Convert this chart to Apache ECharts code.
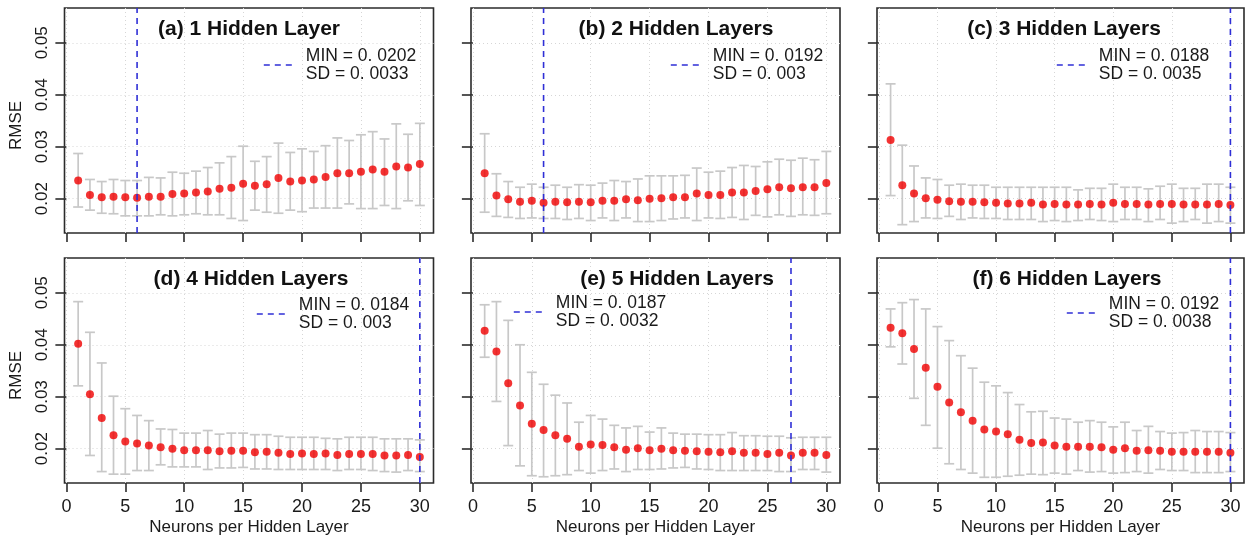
<!DOCTYPE html>
<html>
<head>
<meta charset="utf-8">
<script src="https://cdn.jsdelivr.net/npm/echarts@6/dist/echarts.min.js"></script>
<style>
  html, body { margin: 0; padding: 0; background: #ffffff; }
  #chart { width: 1245px; height: 539px; }
</style>
</head>
<body>
<div id="chart"></div>
<script>
// Neurons per hidden layer (x values shared by every panel)
const neurons = [1, 2, 3, 4, 5, 6, 7, 8, 9, 10, 11, 12, 13, 14, 15, 16, 17, 18, 19, 20, 21, 22, 23, 24, 25, 26, 27, 28, 29, 30];
const xTicks = [0, 5, 10, 15, 20, 25, 30];
const yTicks = [0.02, 0.03, 0.04, 0.05];

const panelTitles = ['(a) 1 Hidden Layer', '(b) 2 Hidden Layers', '(c) 3 Hidden Layers',
                     '(d) 4 Hidden Layers', '(e) 5 Hidden Layers', '(f) 6 Hidden Layers'];
const sdValues = [0.0033, 0.003, 0.0035, 0.003, 0.0032, 0.0038];

// 1 hidden layer: mean RMSE with upper / lower error bar ends
const rmse1  = [0.0235,0.0207,0.0203,0.0204,0.0203,0.0202,0.0204,0.0204,0.0209,0.0210,0.0212,0.0214,0.0219,0.0221,0.0229,0.0225,0.0228,0.0240,0.0233,0.0235,0.0237,0.0242,0.0249,0.0249,0.0252,0.0256,0.0252,0.0262,0.0260,0.0267];
const upper1 = [0.0287,0.0237,0.0233,0.0237,0.0235,0.0235,0.0241,0.0240,0.0251,0.0249,0.0253,0.0260,0.0269,0.0281,0.0301,0.0272,0.0281,0.0307,0.0289,0.0296,0.0291,0.0302,0.0317,0.0312,0.0323,0.0329,0.0315,0.0344,0.0324,0.0345];
const lower1 = [0.0184,0.0178,0.0172,0.0171,0.0167,0.0167,0.0167,0.0169,0.0167,0.0169,0.0171,0.0169,0.0169,0.0162,0.0158,0.0178,0.0174,0.0172,0.0178,0.0175,0.0182,0.0182,0.0182,0.0190,0.0181,0.0181,0.0187,0.0181,0.0196,0.0187];

// 2 hidden layers
const rmse2  = [0.0249,0.0206,0.0199,0.0194,0.0196,0.0192,0.0194,0.0193,0.0194,0.0193,0.0196,0.0196,0.0199,0.0197,0.0200,0.0201,0.0203,0.0203,0.0210,0.0207,0.0207,0.0212,0.0212,0.0215,0.0218,0.0222,0.0220,0.0222,0.0222,0.0230];
const upper2 = [0.0325,0.0248,0.0233,0.0222,0.0228,0.0222,0.0226,0.0222,0.0227,0.0226,0.0230,0.0235,0.0233,0.0238,0.0244,0.0244,0.0244,0.0245,0.0259,0.0251,0.0253,0.0260,0.0264,0.0262,0.0271,0.0276,0.0274,0.0278,0.0275,0.0291];
const lower2 = [0.0174,0.0166,0.0164,0.0162,0.0163,0.0162,0.0162,0.0160,0.0162,0.0158,0.0163,0.0158,0.0163,0.0156,0.0156,0.0158,0.0161,0.0163,0.0158,0.0163,0.0162,0.0164,0.0160,0.0168,0.0165,0.0169,0.0166,0.0169,0.0168,0.0171];

// 3 hidden layers
const rmse3  = [0.0313,0.0226,0.0210,0.0201,0.0198,0.0195,0.0194,0.0194,0.0193,0.0192,0.0191,0.0191,0.0192,0.0189,0.0190,0.0189,0.0189,0.0190,0.0189,0.0192,0.0190,0.0190,0.0189,0.0190,0.0190,0.0189,0.0189,0.0189,0.0190,0.0188];
const upper3 = [0.0421,0.0303,0.0263,0.0240,0.0237,0.0226,0.0228,0.0226,0.0226,0.0222,0.0222,0.0222,0.0222,0.0222,0.0222,0.0222,0.0217,0.0220,0.0220,0.0228,0.0222,0.0222,0.0219,0.0224,0.0228,0.0220,0.0220,0.0228,0.0228,0.0222];
const lower3 = [0.0206,0.0150,0.0156,0.0163,0.0162,0.0166,0.0160,0.0163,0.0162,0.0162,0.0160,0.0160,0.0160,0.0156,0.0158,0.0156,0.0158,0.0160,0.0158,0.0156,0.0160,0.0160,0.0156,0.0160,0.0153,0.0156,0.0160,0.0153,0.0156,0.0153];

// 4 hidden layers
const rmse4  = [0.0402,0.0305,0.0259,0.0226,0.0214,0.0210,0.0206,0.0203,0.0200,0.0197,0.0197,0.0197,0.0195,0.0196,0.0196,0.0193,0.0194,0.0192,0.0190,0.0191,0.0190,0.0191,0.0188,0.0190,0.0190,0.0190,0.0187,0.0187,0.0188,0.0184];
const upper4 = [0.0483,0.0424,0.0365,0.0301,0.0277,0.0264,0.0254,0.0238,0.0237,0.0230,0.0230,0.0235,0.0228,0.0230,0.0230,0.0227,0.0227,0.0224,0.0222,0.0222,0.0222,0.0220,0.0219,0.0222,0.0222,0.0222,0.0219,0.0219,0.0219,0.0217];
const lower4 = [0.0321,0.0187,0.0156,0.0151,0.0151,0.0158,0.0158,0.0169,0.0165,0.0165,0.0165,0.0160,0.0163,0.0163,0.0164,0.0161,0.0161,0.0160,0.0160,0.0160,0.0160,0.0160,0.0158,0.0160,0.0160,0.0158,0.0156,0.0155,0.0158,0.0156];

// 5 hidden layers
const rmse5  = [0.0427,0.0387,0.0326,0.0283,0.0248,0.0236,0.0226,0.0219,0.0204,0.0208,0.0207,0.0203,0.0198,0.0201,0.0197,0.0200,0.0197,0.0196,0.0195,0.0194,0.0193,0.0195,0.0192,0.0192,0.0190,0.0192,0.0187,0.0192,0.0192,0.0188];
const upper5 = [0.0477,0.0483,0.0447,0.0400,0.0347,0.0324,0.0303,0.0288,0.0251,0.0264,0.0257,0.0245,0.0240,0.0243,0.0232,0.0240,0.0230,0.0228,0.0228,0.0227,0.0227,0.0231,0.0225,0.0225,0.0224,0.0224,0.0221,0.0222,0.0222,0.0222];
const lower5 = [0.0376,0.0291,0.0206,0.0167,0.0148,0.0146,0.0148,0.0150,0.0158,0.0153,0.0158,0.0161,0.0156,0.0160,0.0160,0.0161,0.0163,0.0164,0.0161,0.0160,0.0158,0.0158,0.0158,0.0158,0.0158,0.0156,0.0156,0.0160,0.0160,0.0155];

// 6 hidden layers
const rmse6  = [0.0433,0.0422,0.0392,0.0356,0.0319,0.0289,0.0270,0.0254,0.0237,0.0233,0.0228,0.0217,0.0211,0.0212,0.0206,0.0204,0.0204,0.0204,0.0203,0.0198,0.0201,0.0196,0.0197,0.0196,0.0194,0.0194,0.0194,0.0194,0.0194,0.0192];
const upper6 = [0.0469,0.0481,0.0487,0.0469,0.0435,0.0408,0.0379,0.0355,0.0328,0.0321,0.0308,0.0285,0.0271,0.0272,0.0259,0.0257,0.0251,0.0254,0.0251,0.0242,0.0251,0.0235,0.0243,0.0233,0.0230,0.0231,0.0235,0.0233,0.0233,0.0231];
const lower6 = [0.0396,0.0363,0.0297,0.0245,0.0201,0.0171,0.0160,0.0153,0.0145,0.0145,0.0147,0.0149,0.0151,0.0150,0.0153,0.0151,0.0158,0.0155,0.0156,0.0153,0.0154,0.0156,0.0153,0.0160,0.0158,0.0158,0.0154,0.0154,0.0154,0.0156];

const rmseSets  = [rmse1, rmse2, rmse3, rmse4, rmse5, rmse6];
const upperSets = [upper1, upper2, upper3, upper4, upper5, upper6];
const lowerSets = [lower1, lower2, lower3, lower4, lower5, lower6];

// ---- layout ----
const X_MIN = -0.16, X_MAX = 31.16;
const Y_MIN = 0.0134, Y_MAX = 0.0567;
const COL_LEFT = [64.5, 471, 877];
const COL_WIDTH = [369, 369, 367];
const ROW_TOP = [8, 258];
const PLOT_H = 225;
const TITLE_X = [249, 676, 1064, 251, 677, 1067];
const LEGEND_POS = [[263, 47], [670, 47], [1056, 47], [256, 296], [513, 294], [1066, 295]];

const FONT = '"Liberation Sans", Arial, Helvetica, sans-serif';
const TEXT = '#1a1a1a';
const AXIS = '#2b2b2b';
const BAR_GRAY = '#c8c8c8';
const POINT_RED = '#f00000';
const MIN_BLUE = '#2f2fd6';

function argMin(arr) {
  let k = 0;
  arr.forEach((v, i) => { if (v < arr[k]) k = i; });
  return k;
}
const spaced = v => String(v).replace('0.', '0. ');

const grids = [], xAxes = [], yAxes = [], series = [], titles = [], legends = [];

for (let p = 0; p < 6; p++) {
  const row = Math.floor(p / 3), col = p % 3;
  const bottomRow = row === 1, leftCol = col === 0;
  grids.push({
    left: COL_LEFT[col], top: ROW_TOP[row], width: COL_WIDTH[col], height: PLOT_H,
    show: true, borderColor: AXIS, borderWidth: 1.6, backgroundColor: 'transparent'
  });
  xAxes.push({
    type: 'value', gridIndex: p, min: X_MIN, max: X_MAX,
    axisLine: { show: false },
    axisTick: { show: true, customValues: xTicks, length: 9, lineStyle: { color: AXIS, width: 1.6 } },
    axisLabel: {
      show: bottomRow, customValues: xTicks, margin: 15,
      fontFamily: FONT, fontSize: 18, color: TEXT
    },
    splitLine: { show: true, lineStyle: { color: '#d6d6d6', type: [1, 3], width: 1 } },
    name: bottomRow ? 'Neurons per Hidden Layer' : '',
    nameLocation: 'middle', nameGap: 36,
    nameTextStyle: { fontFamily: FONT, fontSize: 17, color: TEXT }
  });
  yAxes.push({
    type: 'value', gridIndex: p, min: Y_MIN, max: Y_MAX,
    axisLine: { show: false },
    axisTick: { show: true, customValues: yTicks, length: 11, lineStyle: { color: AXIS, width: 1.6 } },
    axisLabel: {
      show: leftCol, customValues: yTicks, rotate: 90, margin: 14,
      fontFamily: FONT, fontSize: 17, color: TEXT,
      formatter: v => v.toFixed(2)
    },
    splitLine: { show: true, lineStyle: { color: '#d6d6d6', type: [1, 3], width: 1 } },
    name: leftCol ? 'RMSE' : '',
    nameLocation: 'middle', nameGap: 40,
    nameTextStyle: { fontFamily: FONT, fontSize: 17, color: TEXT, padding: [0, 10, 0, 0] }
  });

  const rmse = rmseSets[p], hi = upperSets[p], lo = lowerSets[p];
  const best = argMin(rmse);
  const legendName = 'min' + p;

  // error bars (whiskers with caps)
  series.push({
    type: 'custom', xAxisIndex: p, yAxisIndex: p, z: 2, silent: true,
    data: neurons.map((n, i) => [n, lo[i], hi[i]]),
    encode: { x: 0, y: [1, 2] },
    renderItem: (params, api) => {
      const x = api.value(0);
      const a = api.coord([x, api.value(1)]);
      const b = api.coord([x, api.value(2)]);
      const cap = 5;
      const style = { stroke: BAR_GRAY, lineWidth: 1.7, fill: null };
      return {
        type: 'group',
        children: [
          { type: 'line', shape: { x1: a[0], y1: a[1], x2: b[0], y2: b[1] }, style },
          { type: 'line', shape: { x1: a[0] - cap, y1: a[1], x2: a[0] + cap, y2: a[1] }, style },
          { type: 'line', shape: { x1: b[0] - cap, y1: b[1], x2: b[0] + cap, y2: b[1] }, style }
        ]
      };
    }
  });
  // mean RMSE points
  series.push({
    type: 'scatter', xAxisIndex: p, yAxisIndex: p, z: 3, silent: true,
    symbol: 'circle', symbolSize: 8,
    itemStyle: { color: POINT_RED },
    data: neurons.map((n, i) => [n, rmse[i]])
  });
  // vertical dashed line at the minimum
  series.push({
    type: 'line', name: legendName, xAxisIndex: p, yAxisIndex: p, z: 4, silent: true,
    symbol: 'none', showSymbol: false,
    itemStyle: { color: MIN_BLUE, opacity: 0 },
    lineStyle: { color: MIN_BLUE, width: 1.6, type: [6, 5] },
    data: [[neurons[best], Y_MIN], [neurons[best], Y_MAX]]
  });

  titles.push({
    text: panelTitles[p], left: TITLE_X[p], top: ROW_TOP[row] + 11, textAlign: 'center', padding: 0,
    textStyle: { fontFamily: FONT, fontSize: 21, fontWeight: 'bold', color: '#111' }
  });
  legends.push({
    data: [legendName], left: LEGEND_POS[p][0], top: LEGEND_POS[p][1], padding: 0,
    selectedMode: false, itemWidth: 32, itemHeight: 14,
    itemStyle: { opacity: 0, borderWidth: 0 },
    lineStyle: { color: MIN_BLUE, width: 1.6, type: [6, 5], opacity: 1 },
    formatter: () => 'MIN = ' + spaced(rmse[best]) + '\nSD = ' + spaced(sdValues[p]),
    textStyle: { fontFamily: FONT, fontSize: 17.5, lineHeight: 18, color: TEXT, padding: [0, 0, 0, 5] }
  });
}

const chart = echarts.init(document.getElementById('chart'), null, { renderer: 'canvas' });
chart.setOption({
  animation: false,
  backgroundColor: '#ffffff',
  title: titles,
  legend: legends,
  grid: grids,
  xAxis: xAxes,
  yAxis: yAxes,
  series: series
});
</script>
</body>
</html>
